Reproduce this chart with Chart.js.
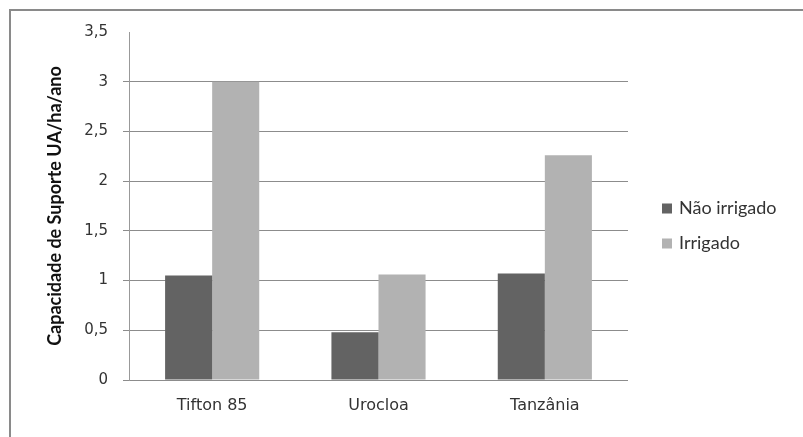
<!DOCTYPE html>
<html>
<head>
<meta charset="utf-8">
<script src="https://cdn.jsdelivr.net/npm/chart.js@4/dist/chart.umd.min.js"></script>
<style>
  html, body { margin: 0; padding: 0; background: #fff; }
  #wrap { position: relative; width: 803px; height: 437px; }
</style>
</head>
<body>
<div id="wrap"><canvas id="c" width="803" height="437"></canvas></div>
<script>
// Capacidade de suporte por cultivar
const categories = ['Tifton 85', 'Urocloa', 'Tanzânia'];
const naoIrrigado = [1.05, 0.48, 1.07];
const irrigado = [3.0, 1.06, 2.26];
const seriesNames = ['Não irrigado', 'Irrigado'];
const yTicks = [0, 0.5, 1, 1.5, 2, 2.5, 3, 3.5];

const AREA = { left: 129, top: 32, right: 628, bottom: 380 };
const PAD = { left: 10, top: AREA.top, right: 803 - AREA.right, bottom: 8 };

// outer frame and custom legend at the right side
const decor = {
  id: 'decor',
  afterDraw(chart) {
    const ctx = chart.ctx;
    ctx.save();
    ctx.strokeStyle = '#8a8a8a';
    ctx.lineWidth = 2;
    ctx.beginPath();
    ctx.moveTo(10, 440);
    ctx.lineTo(10, 10);
    ctx.lineTo(806, 10);
    ctx.stroke();

    const items = chart.data.datasets;
    const rows = [208.5, 243.5];
    ctx.font = '18px Lato';
    ctx.textBaseline = 'middle';
    ctx.textAlign = 'left';
    items.forEach((ds, i) => {
      const y = rows[i];
      ctx.fillStyle = ds.backgroundColor;
      ctx.fillRect(662, y - 5, 10, 10);
      ctx.fillStyle = '#333';
      ctx.fillText(ds.label, 679, y);
    });
    ctx.restore();
  }
};

new Chart(document.getElementById('c'), {
  type: 'bar',
  data: {
    labels: categories,
    datasets: [
      { label: seriesNames[0], data: naoIrrigado, backgroundColor: '#636363' },
      { label: seriesNames[1], data: irrigado, backgroundColor: '#b2b2b2' }
    ]
  },
  options: {
    responsive: false,
    animation: false,
    devicePixelRatio: 1,
    layout: { padding: PAD },
    datasets: { bar: { barPercentage: 1, categoryPercentage: 0.566 } },
    plugins: { legend: { display: false }, tooltip: { enabled: false } },
    scales: {
      x: {
        grid: { display: false, drawTicks: false },
        border: { display: false },
        ticks: { color: '#333', font: { family: 'DejaVu Sans', size: 16 }, padding: 16 },
        afterFit(s) { s.height = 437 - AREA.bottom - PAD.bottom; }
      },
      y: {
        min: 0, max: 3.5,
        afterBuildTicks(s) { s.ticks = yTicks.map(v => ({ value: v })); },
        grid: {
          color: c => (c.tick && c.tick.value === 3.5) ? 'rgba(0,0,0,0)' : '#8c8c8c',
          lineWidth: 1,
          tickLength: 6,
          drawTicks: true
        },
        border: { display: true, color: '#999', width: 1 },
        ticks: {
          color: '#333',
          font: { family: 'DejaVu Sans', size: 15 },
          padding: 15,
          callback: v => String(v).replace('.', ',')
        },
        title: {
          display: true,
          text: 'Capacidade de Suporte UA/ha/ano',
          color: '#111',
          font: { family: 'Lato', size: 18, weight: 'bold' },
          padding: { top: 34, bottom: 0 }
        },
        afterFit(s) { s.width = AREA.left - PAD.left; }
      }
    }
  },
  plugins: [decor]
});
</script>
</body>
</html>
